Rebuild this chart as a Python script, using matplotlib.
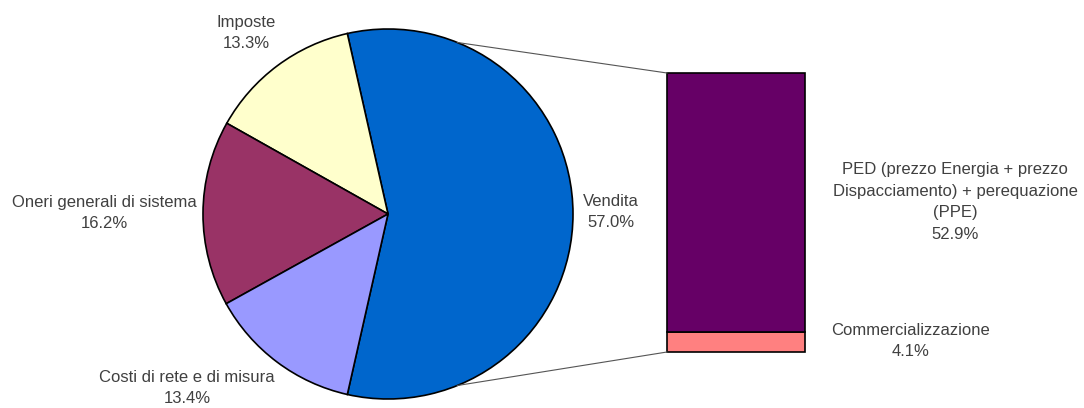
#IMPORT STATEMENTS
import numpy as np
import matplotlib.pyplot as plt

plt.rcParams['font.family'] = ['Liberation Sans', 'DejaVu Sans']

#DATA
pie_labels = ['Vendita', 'Imposte', 'Oneri generali di sistema', 'Costi di rete e di misura']
pie_values = [57.0, 13.3, 16.2, 13.4]
pie_colors = ['#0066CC', '#FFFFCC', '#993366', '#9999FF']

bar_labels = ['Commercializzazione', 'PED (prezzo Energia + prezzo\nDispacciamento) + perequazione\n(PPE)']
bar_values = [4.1, 52.9]
bar_colors = ['#FF8080', '#660066']

text_color = '#404040'

#FIGURE (axes in pixel units, y going up)
fig = plt.figure(figsize=(10.84, 4.08), dpi=100)
ax = fig.add_axes([0, 0, 1, 1])

cx, cy, r = 388, 194, 185
start = -pie_values[0] / sum(pie_values) * 360 / 2
wedges, _ = ax.pie(pie_values, colors=pie_colors, startangle=start, counterclock=True,
                   center=(cx, cy), radius=r,
                   wedgeprops=dict(edgecolor='black', linewidth=1.2))

#pie labels
pie_pos = [(611, 196), (246, 375), (104, 195), (187, 20)]
for lab, val, (x, y) in zip(pie_labels, pie_values, pie_pos):
    ax.text(x, y, '%s\n%.1f%%' % (lab, val), ha='center', va='center', fontsize=12,
            color=text_color, linespacing=1.55)

#stacked bar for Vendita breakdown
bar_x, bar_w, bar_bottom = 736, 138, 56
scale = 279 / pie_values[0]
bottom = bar_bottom
bar_pos = [(911, 67), (955, 206)]
for lab, val, col, (x, y) in zip(bar_labels, bar_values, bar_colors, bar_pos):
    ax.bar(bar_x, val * scale, width=bar_w, bottom=bottom, color=col,
           edgecolor='black', linewidth=1.2)
    bottom += val * scale
    ax.text(x, y, '%s\n%.1f%%' % (lab, val), ha='center', va='center', fontsize=12,
            color=text_color, linespacing=1.55)

#connector lines from pie to bar
ang = np.radians(68)
bar_left = bar_x - bar_w / 2
ax.plot([cx + r * np.cos(ang), bar_left], [cy + r * np.sin(ang), bar_bottom + 279],
        color='#555555', linewidth=0.8)
ax.plot([cx + r * np.cos(ang), bar_left], [cy - r * np.sin(ang), bar_bottom],
        color='#555555', linewidth=0.8)

ax.set_xlim(0, 1084)
ax.set_ylim(0, 408)
ax.set_aspect('equal')
ax.axis('off')

plt.savefig('out.png', dpi=100)
